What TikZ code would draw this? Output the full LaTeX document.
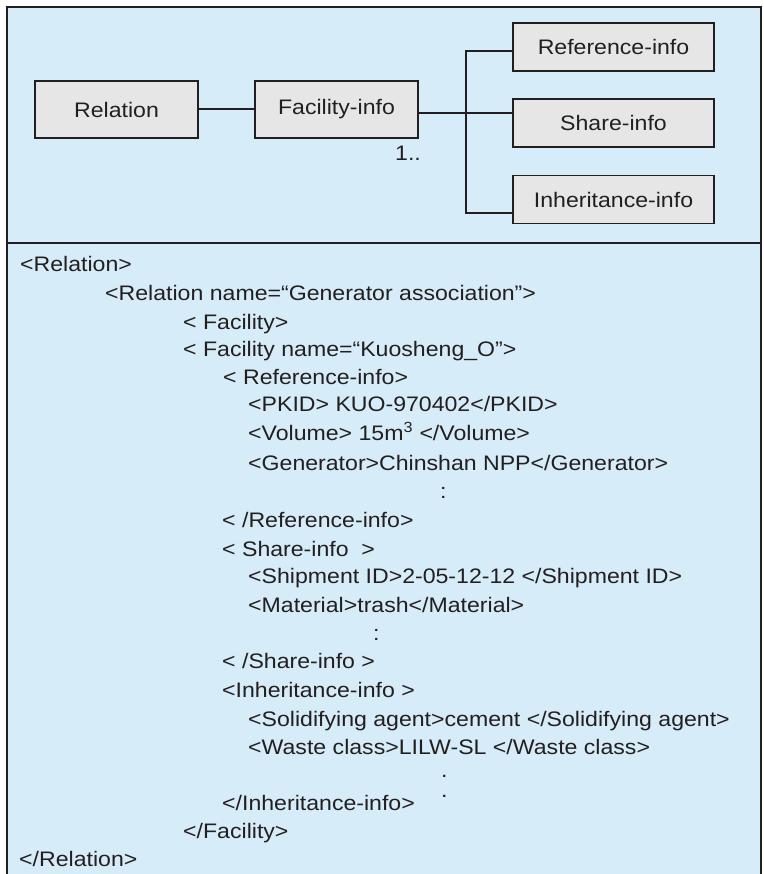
\documentclass[tikz,border=0pt]{standalone}
\usepackage{fontspec}
\setmainfont{Liberation Sans}
\newfontfamily\widesans[FakeStretch=1.1]{Liberation Sans}
\definecolor{panelbg}{RGB}{214,236,249}
\definecolor{boxfill}{RGB}{230,230,230}
\definecolor{ink}{RGB}{35,31,32}
\newcommand{\labelfont}{\widesans\fontsize{21}{27}\selectfont}
\tikzset{
  entity/.style={draw=ink, line width=1.4pt, fill=boxfill,
    inner sep=0pt, font=\labelfont, text=ink},
  smallent/.style={entity, minimum width=163pt, minimum height=57pt},
  wideent/.style={entity, minimum width=201pt, minimum height=48pt},
  link/.style={draw=ink, line width=1.6pt},
  xml/.style={anchor=base west, inner sep=0pt, font=\labelfont, text=ink},
}
\begin{document}
\begin{tikzpicture}[x=1pt, y=-1pt]
  \useasboundingbox (0,0) rectangle (763,874);
  % panel background and frame (bottom edge lies below the page)
  \fill[panelbg] (7,7) rectangle (761,890);
  \draw[ink, line width=1.8pt] (7,890) -- (7,7) -- (761,7) -- (761,890);
  \draw[ink, line width=2.2pt] (7,243) -- (761,243);

  % schema diagram
  \node[smallent] (rel) at (116.5,109.5) {Relation};
  \node[smallent] (fac) at (336.5,109.5) {Facility-info};
  \node[wideent] (ref) at (613.5,47) {Reference-info};
  \node[wideent] (shr) at (613.5,123) {Share-info};
  \node[wideent] (inh) at (613.5,199.5) {Inheritance-info};
  \node[anchor=base, inner sep=0pt, font=\labelfont, text=ink] (mult) at (408,161) {1..};

  \coordinate (jtop) at (466,51);
  \coordinate (jmid) at (466,113);
  \coordinate (jbot) at (466,213);
  \draw[link] (rel.east |- 0,109) -- (fac.west |- 0,109);
  \draw[link] (fac.east |- jmid) -- (jmid) -- (shr.west |- jmid);
  \draw[link] (ref.west |- jtop) -- (jtop) -- (jbot) -- (inh.west |- jbot);

  % XML listing
  \node[xml] (l1)  at (20,272)  {<Relation>};
  \node[xml] (l2)  at (105,300) {<Relation name=“Generator association”>};
  \node[xml] (l3)  at (183,329) {< Facility>};
  \node[xml] (l4)  at (183,356) {< Facility name=“Kuosheng\_O”>};
  \node[xml] (l5)  at (223,384) {< Reference-info>};
  \node[xml] (l6)  at (248,411) {<PKID> KUO-970402</PKID>};
  \node[xml] (l7)  at (248,440) {<Volume> 15m\textsuperscript{3} </Volume>};
  \node[xml] (l8)  at (248,470) {<Generator>Chinshan NPP</Generator>};
  \node[xml] (l9)  at (440,498) {:};
  \node[xml] (l10) at (222,527) {< /Reference-info>};
  \node[xml] (l11) at (222,556) {< Share-info~~>};
  \node[xml] (l12) at (248,583) {<Shipment ID>2-05-12-12 </Shipment ID>};
  \node[xml] (l13) at (248,612) {<Material>trash</Material>};
  \node[xml] (l14) at (373,640) {:};
  \node[xml] (l15) at (222,668) {< /Share-info >};
  \node[xml] (l16) at (222,697) {<Inheritance-info >};
  \node[xml] (l17) at (248,726) {<Solidifying agent>cement </Solidifying agent>};
  \node[xml] (l18) at (248,754) {<Waste class>LILW-SL </Waste class>};
  % two stacked dots; the node's base is that of its last line
  \node[xml, align=left, font=\widesans\fontsize{21}{20}\selectfont] (l19) at (441,797) {.\\.};
  \node[xml] (l21) at (222,810) {</Inheritance-info>};
  \node[xml] (l22) at (183,838) {</Facility>};
  \node[xml] (l23) at (19,866)  {</Relation>};
\end{tikzpicture}
\end{document}
